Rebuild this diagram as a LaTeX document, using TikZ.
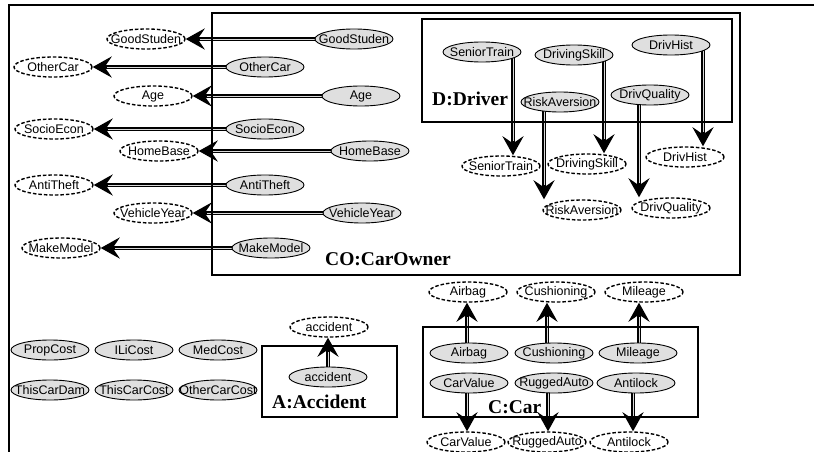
\documentclass[tikz,border=0pt]{standalone}
\usepackage{fontspec}
\setmainfont{Liberation Serif}
\setsansfont{Liberation Sans}
\usetikzlibrary{shapes.geometric,arrows.meta,backgrounds}

\tikzset{
  var/.style={ellipse, draw, line width=0.9pt, minimum width=78pt, minimum height=20pt,
    inner sep=0pt, font=\sffamily\fontsize{12.5}{12.5}\selectfont,
    execute at begin node={\hbox to 0pt\bgroup\hss},
    execute at end node={\hss\egroup}},
  obs/.style={var, fill=gray!25},
  copyvar/.style={var, fill=white, dashed, line width=1.4pt, dash pattern=on 3.5pt off 2pt},
  plate/.style={draw, line width=2.2pt},
  platelabel/.style={anchor=base west, inner sep=0pt,
    font=\bfseries\fontsize{19.5}{20}\selectfont},
  % heavy black shaft with a thin light core, swept stealth head
  link/.style={line width=4.4pt, -{Stealth[length=19pt 0 0,width=21pt 0,inset=7pt 0]},
    postaction={draw, gray!30, line width=0.9pt, -, shorten >=14pt}},
}

\begin{document}
\begin{tikzpicture}[x=1pt, y=-1pt]
\useasboundingbox (0,0) rectangle (814,452);

% outer frame
\draw[line width=2.2pt] (9,452) -- (9,5) -- (814,5);

% ---- CO:CarOwner variables
\node[obs] (cGood)  at (354,39)  {GoodStuden};
\node[obs] (cOther) at (265,67)  {OtherCar};
\node[obs] (cAge)   at (361,96)  {Age};
\node[obs] (cSocio) at (265,129) {SocioEcon};
\node[obs] (cHome)  at (370,151) {HomeBase};
\node[obs] (cAnti)  at (265,185) {AntiTheft};
\node[obs] (cVY)    at (362,213) {VehicleYear};
\node[obs] (cMM)    at (271,248) {MakeModel};

\node[copyvar] (pGood)  at (146,39)  {GoodStuden};
\node[copyvar] (pOther) at (53,67)   {OtherCar};
\node[copyvar] (pAge)   at (153,96)  {Age};
\node[copyvar] (pSocio) at (54,129)  {SocioEcon};
\node[copyvar] (pHome)  at (159,151) {HomeBase};
\node[copyvar] (pAnti)  at (54,185)  {AntiTheft};
\node[copyvar] (pVY)    at (153,213) {VehicleYear};
\node[copyvar] (pMM)    at (61,248)  {MakeModel};

% ---- D:Driver variables
\node[obs] (dST) at (482,52)  {SeniorTrain};
\node[obs] (dDS) at (574,55)  {DrivingSkill};
\node[obs] (dDH) at (671,45)  {DrivHist};
\node[obs] (dRA) at (560,102) {RiskAversion};
\node[obs] (dDQ) at (650,95)  {DrivQuality};

\node[copyvar] (qST) at (501,166) {SeniorTrain};
\node[copyvar] (qDS) at (587,164) {DrivingSkill};
\node[copyvar] (qDH) at (685,157) {DrivHist};
\node[copyvar] (qRA) at (582,210) {RiskAversion};
\node[copyvar] (qDQ) at (671,208) {DrivQuality};

% ---- C:Car variables
\node[obs] (cAir)  at (469,353) {Airbag};
\node[obs] (cCush) at (554,353) {Cushioning};
\node[obs] (cMile) at (638,353) {Mileage};
\node[obs] (cVal)  at (469,383) {CarValue};
\node[obs] (cRug)  at (554,383) {RuggedAuto};
\node[obs] (cLock) at (636,383) {Antilock};

\node[copyvar] (pAir)  at (468,292) {Airbag};
\node[copyvar] (pCush) at (556,292) {Cushioning};
\node[copyvar] (pMile) at (644,292) {Mileage};
\node[copyvar] (pVal)  at (466,442) {CarValue};
\node[copyvar] (pRug)  at (547,442) {RuggedAuto};
\node[copyvar] (pLock) at (629,442) {Antilock};

% ---- A:Accident variables
\node[obs]     (aAcc) at (328,377) {accident};
\node[copyvar] (qAcc) at (329,327) {accident};

% ---- cost variables
\node[obs] (kProp)  at (50,350)  {PropCost};
\node[obs] (kILi)   at (134,350) {ILiCost};
\node[obs] (kMed)   at (218,350) {MedCost};
\node[obs] (kTCD)   at (50,390)  {ThisCarDam};
\node[obs] (kTCC)   at (134,390) {ThisCarCost};
\node[obs] (kOCC)   at (218,390) {OtherCarCost};

% ---- plates
\draw[plate] (212,13) rectangle (740,275);
\draw[plate] (422,19) rectangle (732,122);
\draw[plate] (262,346) rectangle (397,417);
\draw[plate] (423,327) rectangle (698,417);

\node[platelabel] (lCO) at (325,265) {CO:CarOwner};
\node[platelabel] (lD)  at (432,105) {D:Driver};
\node[platelabel] (lA)  at (272,408) {A:Accident};
\node[platelabel] (lC)  at (488,413) {C:Car};

% ---- links, kept behind the variables
\begin{scope}[on background layer]
  \foreach \s/\t in {cGood/pGood, cOther/pOther, cAge/pAge, cSocio/pSocio,
                     cHome/pHome, cAnti/pAnti, cVY/pVY, cMM/pMM}
    \draw[link] (\s.center) -- (\t.east);

  \foreach \s/\t/\dx in {dST/qST/31, dDS/qDS/30, dDH/qDH/32, dRA/qRA/-16, dDQ/qDQ/-11,
                         cVal/pVal/-2, cRug/pRug/-6, cLock/pLock/-3}
    \draw[link] ([xshift=\dx pt]\s.center) -- ([xshift=\dx pt]\s.center |- \t.north);

  \foreach \s/\t/\dx in {cAir/pAir/-2, cCush/pCush/-7, cMile/pMile/1, aAcc/qAcc/0}
    \draw[link] ([xshift=\dx pt]\s.center) -- ([xshift=\dx pt]\s.center |- \t.south);
\end{scope}
\end{tikzpicture}
\end{document}
